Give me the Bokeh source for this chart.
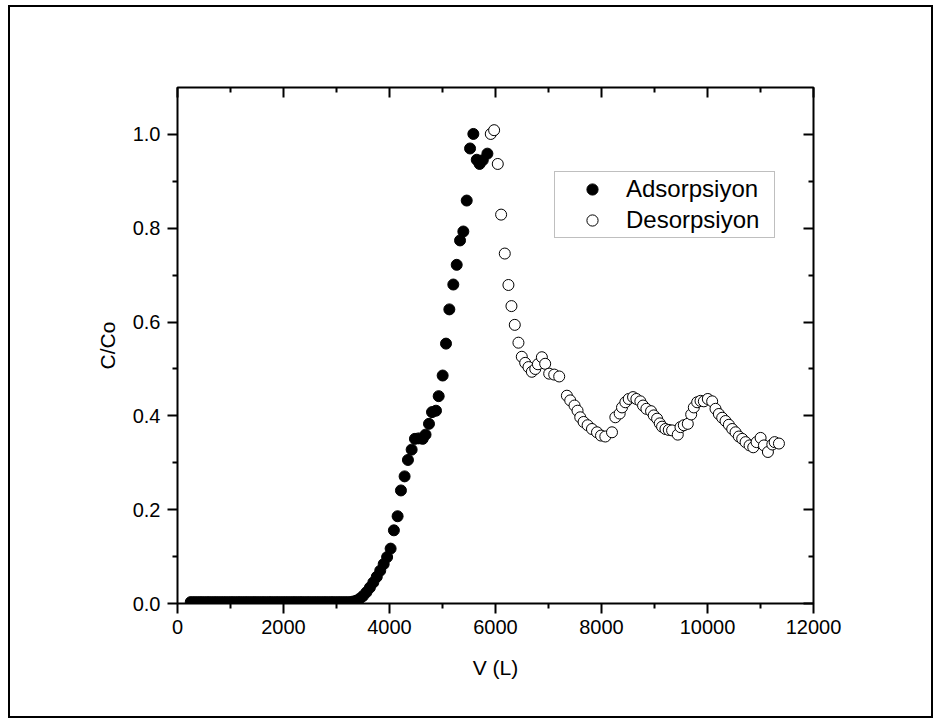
from bokeh.plotting import figure
from bokeh.models import LinearAxis, FixedTicker, PrintfTickFormatter, Range1d
from bokeh.embed import file_html
from bokeh.resources import INLINE

# ---- data ----
ads_v = [250, 315, 380, 445, 510, 575, 640, 705, 770, 835, 900, 965, 1030, 1095, 1160,
         1225, 1290, 1355, 1420, 1485, 1550, 1615, 1680, 1745, 1810, 1875, 1940, 2005,
         2070, 2135, 2200, 2265, 2330, 2395, 2460, 2525, 2590, 2655, 2720, 2785, 2850,
         2915, 2980, 3045, 3110, 3175, 3240, 3305,
         3370, 3435, 3500, 3565, 3630, 3695, 3760, 3825, 3890, 3955,
         4021, 4083, 4153, 4216, 4285, 4348, 4418, 4480, 4550, 4626, 4680, 4745, 4802,
         4877, 4928, 5003, 5066, 5129, 5204, 5268, 5331, 5393, 5457, 5520, 5582, 5646,
         5700, 5760, 5847]
ads_c = [0.003, 0.003, 0.003, 0.003, 0.003, 0.003, 0.003, 0.003, 0.003, 0.003, 0.003,
         0.003, 0.003, 0.003, 0.003, 0.003, 0.003, 0.003, 0.003, 0.003, 0.003, 0.003,
         0.003, 0.003, 0.003, 0.003, 0.003, 0.003, 0.003, 0.003, 0.003, 0.003, 0.003,
         0.003, 0.003, 0.003, 0.003, 0.003, 0.003, 0.003, 0.003, 0.003, 0.003, 0.003,
         0.003, 0.003, 0.003, 0.004,
         0.006, 0.010, 0.016, 0.024, 0.034, 0.045, 0.057, 0.070, 0.084, 0.099,
         0.117, 0.156, 0.186, 0.241, 0.271, 0.306, 0.328, 0.351, 0.352, 0.351, 0.360,
         0.383, 0.408, 0.411, 0.442, 0.486, 0.554, 0.627, 0.680, 0.722, 0.774, 0.793,
         0.859, 0.970, 1.001, 0.946, 0.937, 0.945, 0.959]

des_v = [5911, 5974, 6043, 6106, 6175, 6244, 6301, 6364, 6433, 6496, 6560, 6622, 6686,
         6750, 6800, 6875, 6937, 7013, 7108, 7202, 7347, 7410, 7491, 7548, 7599, 7662,
         7738, 7820, 7915, 7991, 8072, 8198, 8261, 8343, 8387, 8450, 8513, 8595, 8658,
         8733, 8784, 8847, 8935, 8986, 9049, 9099, 9143, 9206, 9269, 9332, 9439, 9490,
         9553, 9628, 9692, 9742, 9805, 9868, 9931, 10006, 10088, 10151, 10214, 10277,
         10340, 10403, 10466, 10529, 10592, 10655, 10718, 10794, 10863, 10926, 11002,
         11065, 11140, 11223, 11267, 11348]
des_c = [1.001, 1.009, 0.937, 0.829, 0.746, 0.679, 0.634, 0.594, 0.556, 0.526, 0.513,
         0.504, 0.494, 0.500, 0.510, 0.525, 0.511, 0.490, 0.488, 0.484, 0.443, 0.433,
         0.422, 0.411, 0.397, 0.387, 0.380, 0.372, 0.365, 0.358, 0.356, 0.365, 0.397,
         0.405, 0.418, 0.429, 0.436, 0.440, 0.436, 0.431, 0.422, 0.415, 0.410, 0.401,
         0.394, 0.384, 0.377, 0.372, 0.370, 0.369, 0.360, 0.376, 0.380, 0.383, 0.403,
         0.418, 0.429, 0.432, 0.431, 0.436, 0.431, 0.415, 0.404, 0.396, 0.389, 0.381,
         0.372, 0.365, 0.356, 0.351, 0.344, 0.337, 0.333, 0.344, 0.353, 0.337, 0.323,
         0.339, 0.344, 0.341]

x_ticks = [0, 2000, 4000, 6000, 8000, 10000, 12000]
x_minor = [1000, 3000, 5000, 7000, 9000, 11000]
y_ticks = [0.0, 0.2, 0.4, 0.6, 0.8, 1.0]
y_minor = [0.1, 0.3, 0.5, 0.7, 0.9]

series_names = ["Adsorpsiyon", "Desorpsiyon"]
x_title = "V (L)"
y_title = "C/Co"

FONT = "Liberation Sans"

p = figure(frame_width=636, frame_height=516,
           min_border_left=167, min_border_right=118,
           min_border_top=80, min_border_bottom=113,
           x_range=Range1d(0, 12000), y_range=Range1d(0, 1.1),
           output_backend="svg", toolbar_location=None,
           x_axis_label=x_title, y_axis_label=y_title)
p.styles = {"margin-left": "8px", "margin-top": "5px", "border": "2px solid black"}

p.xgrid.visible = False
p.ygrid.visible = False
p.background_fill_color = "white"
p.border_fill_color = "white"
p.outline_line_color = "black"
p.outline_line_width = 2

xt = FixedTicker(ticks=x_ticks, minor_ticks=x_minor)
yt = FixedTicker(ticks=y_ticks, minor_ticks=y_minor)

def style_axis(ax, ticker, inward, labels=True):
    ax.ticker = ticker
    ax.axis_line_color = None
    ax.major_tick_line_color = "black"
    ax.minor_tick_line_color = "black"
    ax.major_tick_line_width = 2
    ax.minor_tick_line_width = 2
    if inward:
        ax.major_tick_in, ax.major_tick_out = 10, 0
        ax.minor_tick_in, ax.minor_tick_out = 5, 0
    else:
        ax.major_tick_in, ax.major_tick_out = 0, 10
        ax.minor_tick_in, ax.minor_tick_out = 0, 5
    ax.major_label_text_font = FONT
    ax.major_label_text_font_size = "20px"
    ax.major_label_text_color = "black" if labels else None
    ax.axis_label_text_font = FONT
    ax.axis_label_text_font_size = "21px"
    ax.axis_label_text_font_style = "normal"
    ax.axis_label_text_color = "black"

xa = p.xaxis[0]
style_axis(xa, xt, inward=False)
xa.major_label_standoff = 6
xa.axis_label_standoff = 19

ya = p.yaxis[0]
style_axis(ya, yt, inward=False)
ya.formatter = PrintfTickFormatter(format="%.1f")
ya.major_label_standoff = 7
ya.axis_label_standoff = 11

top = LinearAxis()
style_axis(top, FixedTicker(ticks=x_ticks, minor_ticks=x_minor), inward=True, labels=False)
top.major_label_text_font_size = "0px"
p.add_layout(top, "above")

right = LinearAxis()
style_axis(right, FixedTicker(ticks=y_ticks, minor_ticks=y_minor), inward=True, labels=False)
right.major_label_text_font_size = "0px"
p.add_layout(right, "right")

p.scatter(ads_v, ads_c, marker="circle", size=11, fill_color="black",
          line_color="black", line_width=1, legend_label=series_names[0])
p.scatter(des_v, des_c, marker="circle", size=11, fill_color="white",
          line_color="black", line_width=1, legend_label=series_names[1])

lg = p.legend[0]
lg.location = (377, 365)
lg.padding = 3
lg.margin = 0
lg.spacing = 3
lg.glyph_width = 68
lg.glyph_height = 28
lg.label_height = 28
lg.label_width = 145
lg.label_standoff = 0
lg.label_text_font = FONT
lg.label_text_font_size = "24px"
lg.label_text_color = "black"
lg.border_line_color = "#808080"
lg.border_line_width = 1
lg.background_fill_color = "white"
lg.background_fill_alpha = 1

open("out.html", "w").write(file_html(p, INLINE))
